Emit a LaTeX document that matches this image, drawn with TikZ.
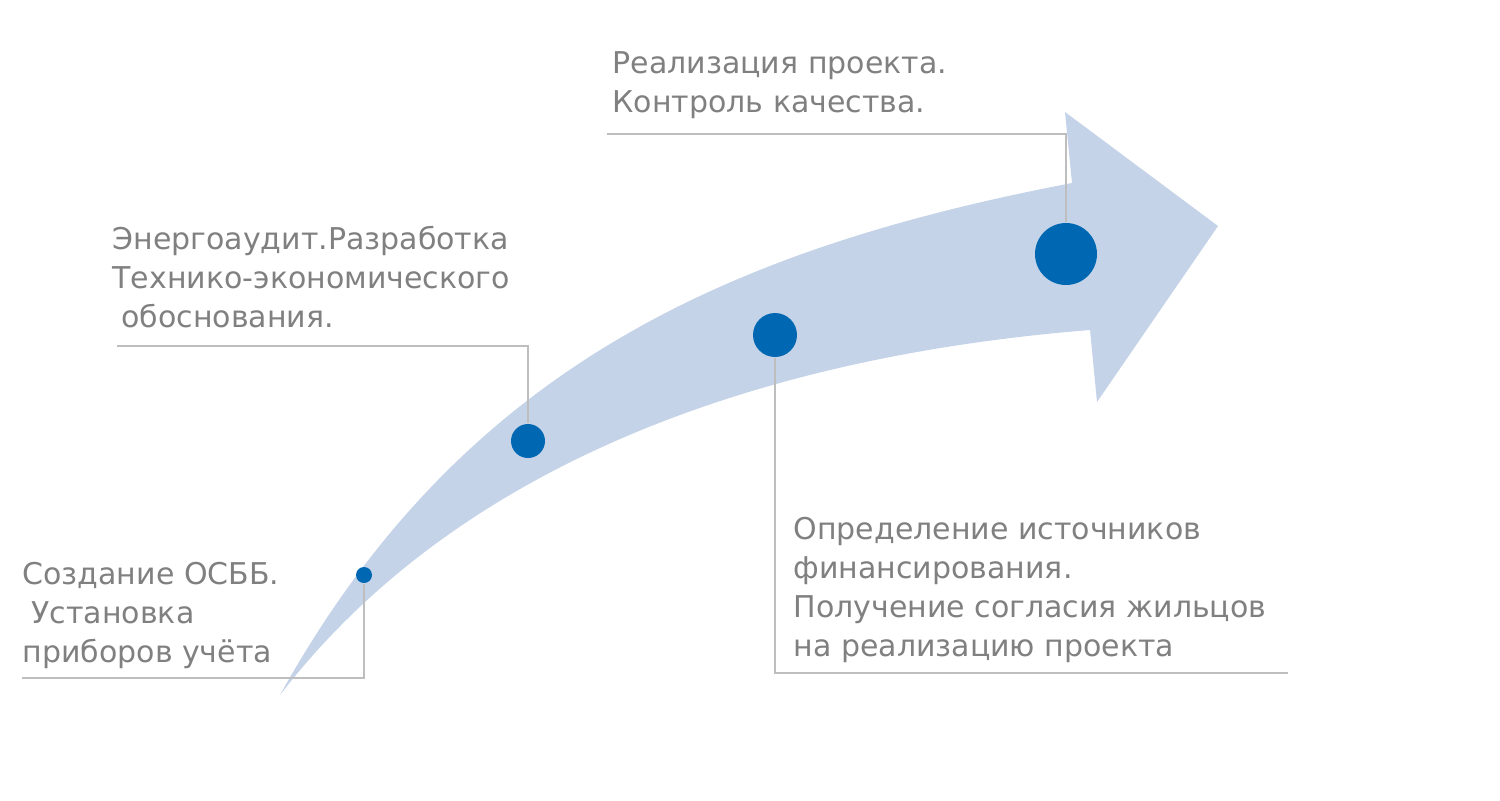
\documentclass[tikz,border=0pt]{standalone}
\usepackage{fontspec}
\setmainfont{DejaVu Sans}
\usepackage{tikz}
\usetikzlibrary{positioning}

\definecolor{bandblue}{RGB}{197,211,232}
\definecolor{dotblue}{RGB}{0,104,179}
\definecolor{textgray}{RGB}{128,128,128}
\definecolor{leadgray}{RGB}{190,190,190}

\tikzset{
    dot/.style={circle, fill=dotblue, inner sep=0pt},
    lead/.style={leadgray, line width=1.2pt},
    label/.style={anchor=base west, inner sep=0pt, align=left, textgray,
        font=\fontsize{15}{19.5}\selectfont},
}

\begin{document}
\begin{tikzpicture}[x=0.5pt, y=-0.5pt, semithick]
            \useasboundingbox (0, 0) rectangle (1500, 800);
            % curved arrow
            \fill[bandblue] (280, 695) .. controls (460, 371) and (722, 250) .. (1072, 183)
                -- (1065, 112) -- (1218, 226) -- (1097, 402) -- (1090, 330)
                .. controls (740, 358) and (450, 474) .. cycle;
            \node[dot, minimum size=8pt] (0) at (364, 575) {};
            \node[dot, minimum size=17pt] (1) at (528, 441) {};
            \node[dot, minimum size=22pt] (2) at (775, 335) {};
            \node[dot, minimum size=31pt] (3) at (1066, 254) {};
            \coordinate (c0) at (22, 678);
            \coordinate (c1) at (117, 346);
            \coordinate (c2) at (1288, 673);
            \coordinate (c3) at (607, 134);
            \draw[lead] (0) |- (c0);
            \draw[lead] (1) |- (c1);
            \draw[lead] (2) |- (c2);
            \draw[lead] (3) |- (c3);
            % base anchor sits on the last line
            \node[label] (t0) at (22, 662) {Создание ОСББ.\\\hspace*{0.3em}Установка\\приборов учёта};
            \node[label] (t1) at (112, 327) {Энергоаудит.Разработка\\Технико-экономического\\\hspace*{0.3em}обоснования.};
            \node[label] (t2) at (793, 656) {Определение источников\\финансирования.\\Получение согласия жильцов\\на реализацию проекта};
            \node[label] (t3) at (612, 112) {Реализация проекта.\\Контроль качества.};
        \end{tikzpicture}
\end{document}
